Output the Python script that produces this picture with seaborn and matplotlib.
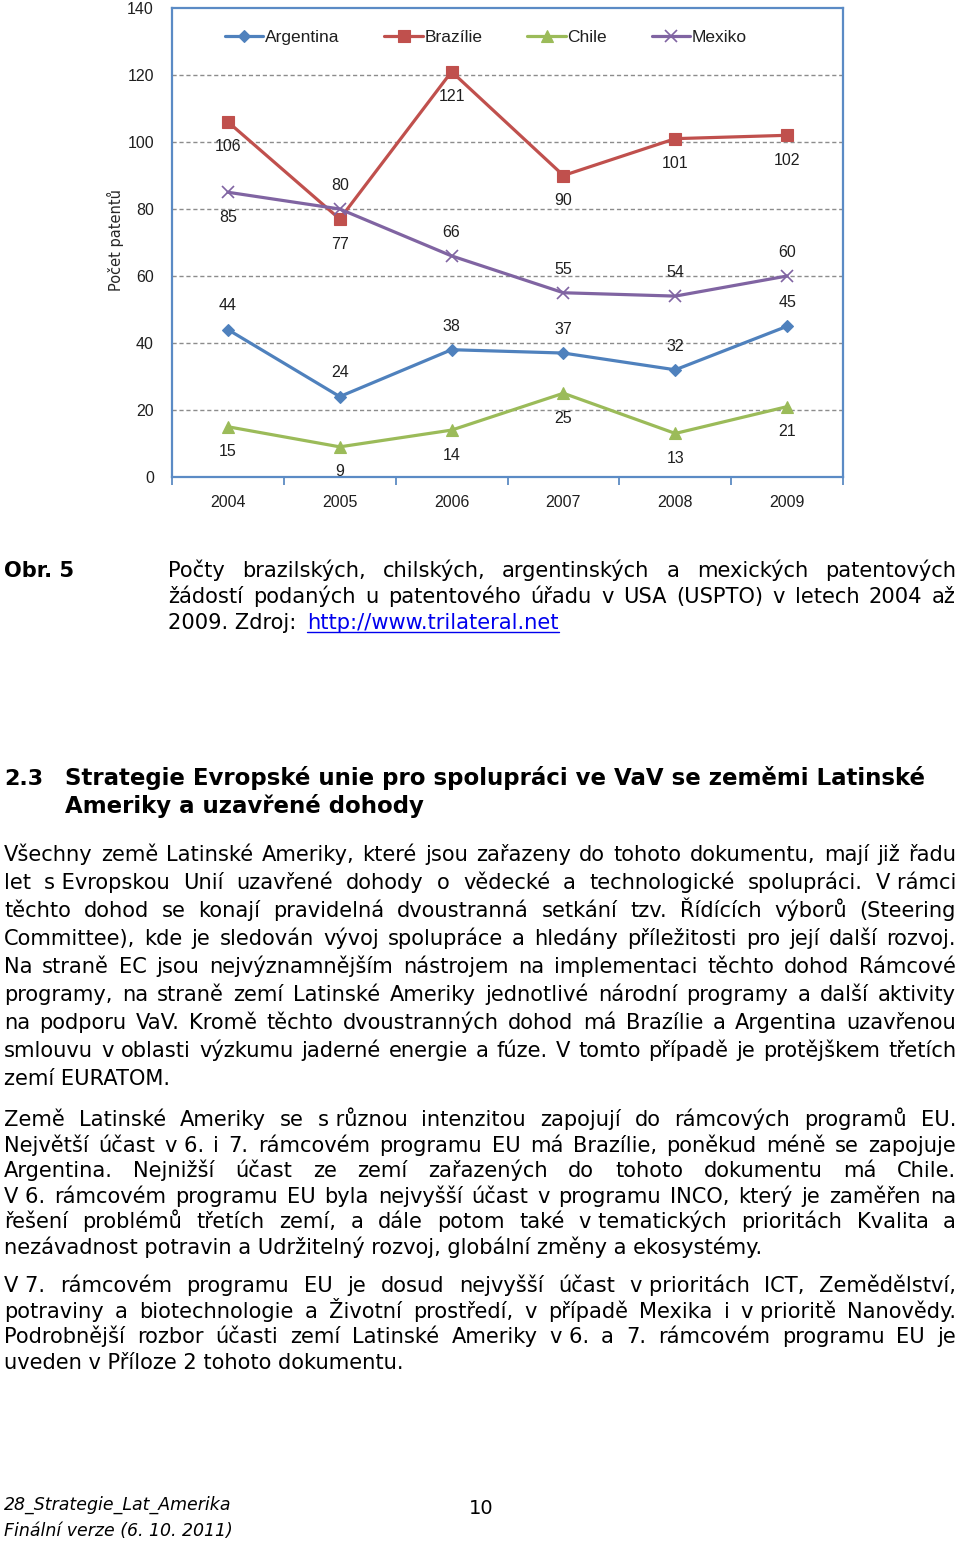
import numpy as np
import pandas as pd
import seaborn as sns
import matplotlib.pyplot as plt
from matplotlib.lines import Line2D

# data z grafu
roky = ['2004', '2005', '2006', '2007', '2008', '2009']
zeme = ['Argentina', 'Brazílie', 'Chile', 'Mexiko']
argentina = [44, 24, 38, 37, 32, 45]
brazilie = [106, 77, 121, 90, 101, 102]
chile = [15, 9, 14, 25, 13, 21]
mexiko = [85, 80, 66, 55, 54, 60]
# umisteni popisku: 1 = nad bodem, -1 = pod bodem
pop_argentina = [1, 1, 1, 1, 1, 1]
pop_brazilie = [-1, -1, -1, -1, -1, -1]
pop_chile = [-1, -1, -1, -1, -1, -1]
pop_mexiko = [-1, 1, 1, 1, 1, 1]

W, H = 960, 1545
sns.set_theme(style='white')
plt.rcParams['font.family'] = ['DejaVu Sans']

fig = plt.figure(figsize=(W / 100, H / 100), dpi=100)


def fx(x):
    return x / W


def fy(y):
    return 1 - y / H


# ---------------- graf ----------------
ax = fig.add_axes([fx(172), fy(477), (843 - 172) / W, (477 - 8) / H])
barvy = ['#4F81BD', '#C0504D', '#9BBB59', '#8064A2']
znacky = ['D', 's', '^', 'x']
velikosti = [6.5, 8, 8.5, 8]
serie = [argentina, brazilie, chile, mexiko]
popisky = [pop_argentina, pop_brazilie, pop_chile, pop_mexiko]
chart_font = ['Liberation Sans Narrow', 'Liberation Sans', 'DejaVu Sans']

xpos = np.arange(len(roky))
for name, vals, c, m, ms, pp in zip(zeme, serie, barvy, znacky, velikosti, popisky):
    df = pd.DataFrame({'rok': xpos, 'pocet': vals})
    sns.lineplot(data=df, x='rok', y='pocet', color=c, marker=m, markersize=ms,
                 markeredgecolor=c, markeredgewidth=1.2 if m == 'x' else 0.8,
                 linewidth=2.3, label=name, ax=ax, sort=False)
    for i, (v, p) in enumerate(zip(vals, pp)):
        off = 17 if p > 0 else -18
        ax.annotate(str(v), (i, v), xytext=(0, off), textcoords='offset points',
                    ha='center', va='center', fontsize=11.5, color='#1f1f1f',
                    family=chart_font)

ax.set_xlim(-0.5, 5.5)
ax.set_ylim(0, 140)
ax.set_yticks(range(0, 141, 20))
ax.set_xticks(xpos)
ax.set_xticklabels(roky)
ax.set_xticks(np.arange(-0.5, 6, 1), minor=True)
ax.tick_params(axis='x', which='major', length=0, pad=13)
ax.tick_params(axis='x', which='minor', length=6, width=1.2, color='#4F81BD',
               direction='out', bottom=True)
ax.tick_params(axis='y', length=0, pad=13)
for lab in ax.get_xticklabels() + ax.get_yticklabels():
    lab.set_family(chart_font)
    lab.set_fontsize(11.5)
    lab.set_color('#1f1f1f')
for y in range(20, 140, 20):
    ax.axhline(y, color='#8c8c8c', linestyle=(0, (3, 2)), linewidth=1.0, zorder=0)
for s in ax.spines.values():
    s.set_color('#5B8BC5')
    s.set_linewidth(1.6)
    s.set_visible(True)
ax.set_xlabel('')
ax.set_ylabel('')
fig.text(fx(115), fy(240), 'Počet patentů', rotation=90, ha='center', va='center',
         fontsize=10.5, color='#262626')
leg = ax.legend(loc='center', bbox_to_anchor=(0.468, 0.938), ncol=4, frameon=False,
                handlelength=2.2, columnspacing=2.6, handletextpad=0.1,
                prop={'family': chart_font, 'size': 12.5})
for t in leg.get_texts():
    t.set_color('#1f1f1f')

# ---------------- text stranky ----------------
renderer = fig.canvas.get_renderer()
FS = 15.1


def justify(line, y, x0, x1, **kw):
    words = line.split(' ')
    texts = [fig.text(0, 0, w.replace('~', ' '), va='baseline', **kw) for w in words]
    widths = [t.get_window_extent(renderer).width for t in texts]
    gap = (x1 - x0 - sum(widths)) / max(len(words) - 1, 1)
    x = x0
    for t, w in zip(texts, widths):
        t.set_position((fx(x), fy(y)))
        x += w + gap


def left(line, y, x0, **kw):
    return fig.text(fx(x0), fy(y), line.replace('~', ' '), va='baseline', **kw)


def paragraph(lines, ys, x0, x1, **kw):
    for i, (line, y) in enumerate(zip(lines, ys)):
        if i == len(lines) - 1:
            left(line, y, x0, **kw)
        else:
            justify(line, y, x0, x1, **kw)


# popisek obrazku
left('Obr. 5', 577, 4, fontsize=FS, fontweight='bold', color='black')
justify('Počty brazilských, chilských, argentinských a mexických patentových', 577, 168, 956,
        fontsize=FS, color='black')
justify('žádostí podaných u patentového úřadu v USA (USPTO) v letech 2004 až', 603, 168, 956,
        fontsize=FS, color='black')
t0 = left('2009. Zdroj: ', 629, 168, fontsize=FS, color='black')
x_link = 168 + t0.get_window_extent(renderer).width + 4
link = left('http://www.trilateral.net', 629, x_link, fontsize=FS, color='#0000EE')
lw = link.get_window_extent(renderer).width
fig.add_artist(Line2D([fx(x_link), fx(x_link + lw)], [fy(632), fy(632)],
                      color='#0000EE', linewidth=1))

# nadpis
left('2.3', 785, 4, fontsize=16, fontweight='bold', color='black')
h1 = left('Strategie Evropské unie pro spolupráci ve VaV se zeměmi Latinské', 785, 65,
          fontsize=16, fontweight='bold', color='black')
hs = 16 * (927 - 65) / h1.get_window_extent(renderer).width
h1.set_fontsize(hs)
left('Ameriky a uzavřené dohody', 813, 65, fontsize=hs, fontweight='bold', color='black')

odst1 = [
    'Všechny země Latinské Ameriky, které jsou zařazeny do tohoto dokumentu, mají již řadu',
    'let s~Evropskou Unií uzavřené dohody o vědecké a technologické spolupráci. V~rámci',
    'těchto dohod se konají pravidelná dvoustranná setkání tzv. Řídících výborů (Steering',
    'Committee), kde je sledován vývoj spolupráce a hledány příležitosti pro její další rozvoj.',
    'Na straně EC jsou nejvýznamnějším nástrojem na implementaci těchto dohod Rámcové',
    'programy, na straně zemí Latinské Ameriky jednotlivé národní programy a další aktivity',
    'na podporu VaV. Kromě těchto dvoustranných dohod má Brazílie a Argentina uzavřenou',
    'smlouvu v oblasti výzkumu jaderné energie a fúze. V tomto případě je protějškem třetích',
    'zemí EURATOM.',
]
odst2 = [
    'Země Latinské Ameriky se s~různou intenzitou zapojují do rámcových programů EU.',
    'Největší účast v~6. i 7. rámcovém programu EU má Brazílie, poněkud méně se zapojuje',
    'Argentina. Nejnižší účast ze zemí zařazených do tohoto dokumentu má Chile.',
    'V~6. rámcovém programu EU byla nejvyšší účast v programu INCO, který je zaměřen na',
    'řešení problémů třetích zemí, a dále potom také v~tematických prioritách Kvalita a',
    'nezávadnost potravin a Udržitelný rozvoj, globální změny a ekosystémy.',
]
odst3 = [
    'V~7. rámcovém programu EU je dosud nejvyšší účast v~prioritách ICT, Zemědělství,',
    'potraviny a biotechnologie a Životní prostředí, v případě Mexika i v~prioritě Nanovědy.',
    'Podrobnější rozbor účasti zemí Latinské Ameriky v~6. a 7. rámcovém programu EU je',
    'uveden v~Příloze 2 tohoto dokumentu.',
]
paragraph(odst1, [861 + 28 * k for k in range(9)], 4, 956, fontsize=FS, color='black')
paragraph(odst2, [1126, 1152, 1177, 1203, 1228, 1254], 4, 956, fontsize=FS, color='black')
paragraph(odst3, [1292, 1318, 1343, 1369], 4, 956, fontsize=FS, color='black')

# zapati
left('28_Strategie_Lat_Amerika', 1510, 4, fontsize=12.5, style='italic', color='black')
left('Finální verze (6. 10. 2011)', 1536, 4, fontsize=12.5, style='italic', color='black')
fig.text(fx(481), fy(1514), '10', ha='center', va='baseline', fontsize=14, color='black')

fig.savefig('out.png', dpi=100)
